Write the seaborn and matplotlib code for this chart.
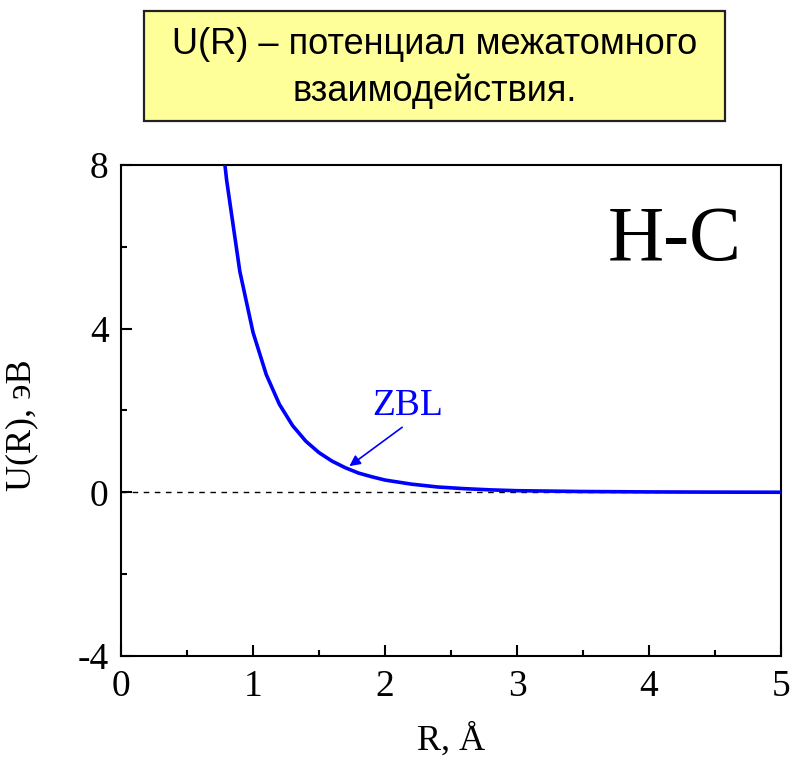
import matplotlib
matplotlib.use("Agg")
import matplotlib.pyplot as plt
from matplotlib.patches import Rectangle
from matplotlib.ticker import MultipleLocator
import pandas as pd
import seaborn as sns

# Interatomic separation R (Å) and ZBL pair potential U(R) (eV) for H-C
r_values = [0.78, 0.8, 0.9, 1.0, 1.1, 1.2, 1.3, 1.4, 1.5, 1.6, 1.7, 1.8, 1.9,
            2.0, 2.2, 2.4, 2.6, 2.8, 3.0, 3.5, 4.0, 4.5, 5.0]
u_values = [8.21, 7.63, 5.40, 3.91, 2.88, 2.15, 1.63, 1.25, 0.97, 0.76, 0.60,
            0.47, 0.38, 0.30, 0.20, 0.13, 0.09, 0.06, 0.04, 0.02, 0.01,
            0.005, 0.002]
x_ticks = [0, 1, 2, 3, 4, 5]
y_ticks = [-4, 0, 4, 8]

title_text = "U(R) – потенциал межатомного\nвзаимодействия."
pair_label = "H-C"
curve_label = "ZBL"

df = pd.DataFrame({"R": r_values, "U": u_values})

sns.set_style("ticks")
plt.rcParams["font.family"] = ["Liberation Serif", "DejaVu Serif"]
plt.rcParams["text.color"] = "black"
plt.rcParams["axes.labelcolor"] = "black"
plt.rcParams["xtick.color"] = "black"
plt.rcParams["ytick.color"] = "black"

fig = plt.figure(figsize=(7.9, 7.62), dpi=100)
ax = fig.add_axes([0.1532, 0.1391, 0.8354, 0.6444])

# zero reference line
ax.axhline(0, color="black", lw=1.0, ls=(0, (4, 4)), zorder=1)

sns.lineplot(data=df, x="R", y="U", ax=ax, color="#0000ff", lw=2.6,
             zorder=3, legend=False)

ax.set_xlim(0, 5)
ax.set_ylim(-4, 8)
ax.set_xticks(x_ticks)
ax.set_yticks(y_ticks)
ax.set_xticklabels([str(v) for v in x_ticks])
ax.set_yticklabels([str(v) for v in y_ticks])
ax.xaxis.set_minor_locator(MultipleLocator(0.5))
ax.yaxis.set_minor_locator(MultipleLocator(2))
ax.tick_params(which="both", direction="in", width=1.5, top=False,
               right=False, labelsize=27)
ax.tick_params(axis="x", pad=10)
ax.tick_params(axis="y", pad=9)
ax.tick_params(which="major", length=8)
ax.tick_params(which="minor", length=4)
for sp in ax.spines.values():
    sp.set_linewidth(1.5)
    sp.set_color("black")

ax.set_xlabel("R, Å", fontsize=26, labelpad=14)
ax.set_ylabel("U(R), эВ", fontsize=26)
ax.yaxis.set_label_coords(-0.125, 0.47)

ax.text(0.941, 0.845, pair_label, transform=ax.transAxes, fontsize=56,
        ha="right", va="center")

# curve label with a pointer to the line
ax.text(2.17, 1.70, curve_label, fontsize=27, color="#0000ff",
        ha="center", va="bottom")
ax.annotate("", xy=(1.73, 0.64), xytext=(2.13, 1.59),
            arrowprops=dict(arrowstyle="-|>", color="#0000ff", lw=1.2,
                            mutation_scale=16, shrinkA=0, shrinkB=0))

# header box
box = Rectangle((144 / 790, 1 - 121 / 762), 581 / 790, 110 / 762,
                transform=fig.transFigure, facecolor="#ffff99",
                edgecolor="#222222", lw=1.6)
fig.patches.append(box)
fig.text(434.5 / 790, 1 - 68 / 762, title_text, ha="center", va="center",
         fontsize=26, family=["Liberation Sans", "DejaVu Sans"],
         linespacing=1.4)

fig.savefig("out.png", dpi=100)
